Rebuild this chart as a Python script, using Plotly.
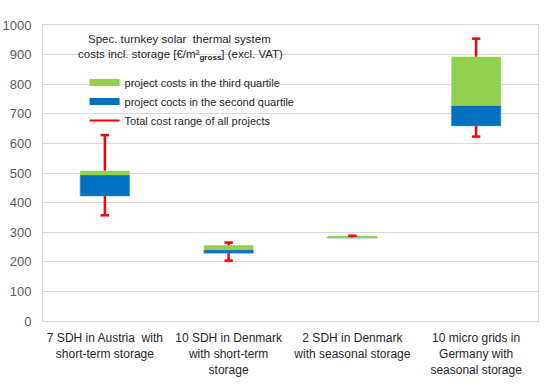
import plotly.graph_objects as go

categories = [
    "7 SDH in Austria  with<br>short-term storage",
    "10 SDH in Denmark<br>with short-term<br>storage",
    "2 SDH in Denmark<br>with seasonal storage",
    "10 micro grids in<br>Germany with<br>seasonal storage",
]
cost_min = [357, 204, 281, 623]
q1 = [422, 229, 280, 659]
median = [493, 240, 283, 728]
q3 = [508, 256, 287, 893]
cost_max = [628, 265, 288, 954]

GREEN = "#92D050"
BLUE = "#0070C0"
RED = "#FF0000"
FONT = "Liberation Sans"

fig = go.Figure()

# whiskers (segments outside the box)
wx, wy = [], []
for c, lo, a, b, hi in zip(categories, cost_min, q1, q3, cost_max):
    wx += [c, c, None, c, c, None]
    wy += [hi, b, None, a, lo, None]
fig.add_trace(go.Scatter(x=wx, y=wy, mode="lines", line=dict(color=RED, width=2.5),
                         showlegend=False, hoverinfo="skip"))
# caps only where the whisker extends outside the box
cap_x, cap_y = [], []
for c, lo, a, b, hi in zip(categories, cost_min, q1, q3, cost_max):
    if hi > b:
        cap_x.append(c); cap_y.append(hi)
    if lo < a:
        cap_x.append(c); cap_y.append(lo)
fig.add_trace(go.Scatter(x=cap_x, y=cap_y, mode="markers",
                         marker=dict(symbol="line-ew", size=6, line=dict(color=RED, width=2.5)),
                         showlegend=False, hoverinfo="skip"))

fig.add_trace(go.Bar(x=categories, y=[m - a for m, a in zip(median, q1)], base=q1,
                     marker=dict(color=BLUE, line=dict(color="#5B9BD5", width=0.6)),
                     width=0.4, showlegend=False))
fig.add_trace(go.Bar(x=categories, y=[b - m for b, m in zip(q3, median)], base=median,
                     marker=dict(color=GREEN, line=dict(width=0)),
                     width=0.4, showlegend=False))

# legend entries
fig.add_trace(go.Scatter(x=[None], y=[None], mode="lines", line=dict(color=GREEN, width=7),
                         name="project costs in the third quartile"))
fig.add_trace(go.Scatter(x=[None], y=[None], mode="lines", line=dict(color=BLUE, width=7),
                         name="project cocts in the second quartile"))
fig.add_trace(go.Scatter(x=[None], y=[None], mode="lines", line=dict(color=RED, width=2),
                         name="Total cost range of all projects"))

fig.update_layout(
    width=550, height=389,
    margin=dict(l=43, r=12, t=25, b=68),
    paper_bgcolor="white", plot_bgcolor="white",
    barmode="overlay",
    font=dict(family=FONT, size=12, color="#404040"),
    legend=dict(x=0.084, y=0.855, xanchor="left", yanchor="top",
                bgcolor="rgba(0,0,0,0)", font=dict(size=11, color="#262626"),
                itemwidth=30, tracegroupgap=0),
)
fig.add_annotation(text="Spec. turnkey solar  thermal system", x=0.275, y=(321 - 39) / 296,
                   xref="paper", yref="paper", xanchor="center", yanchor="middle",
                   showarrow=False, font=dict(size=11.5, color="#262626"))
fig.add_annotation(text="costs incl. storage [€/m²<sub><b>gross</b></sub>] (excl. VAT)",
                   x=0.278, y=(321 - 55) / 296, xref="paper", yref="paper",
                   xanchor="center", yanchor="middle",
                   showarrow=False, font=dict(size=11.5, color="#262626"))
fig.update_xaxes(showgrid=False, showline=True, linecolor="#D9D9D9", mirror=True,
                 ticks="", ticklabelstandoff=6, automargin=False,
                 tickfont=dict(size=12, color="#262626"))
fig.update_yaxes(range=[0, 1000], dtick=100, showgrid=True, gridcolor="#D9D9D9",
                 showline=True, linecolor="#D9D9D9", mirror=True, zeroline=False,
                 ticks="", ticklabelstandoff=8, automargin=False,
                 tickfont=dict(size=13, color="#595959"))

fig.write_html("out.html", config={"displayModeBar": False},
               post_script="document.body.style.margin='0';")
